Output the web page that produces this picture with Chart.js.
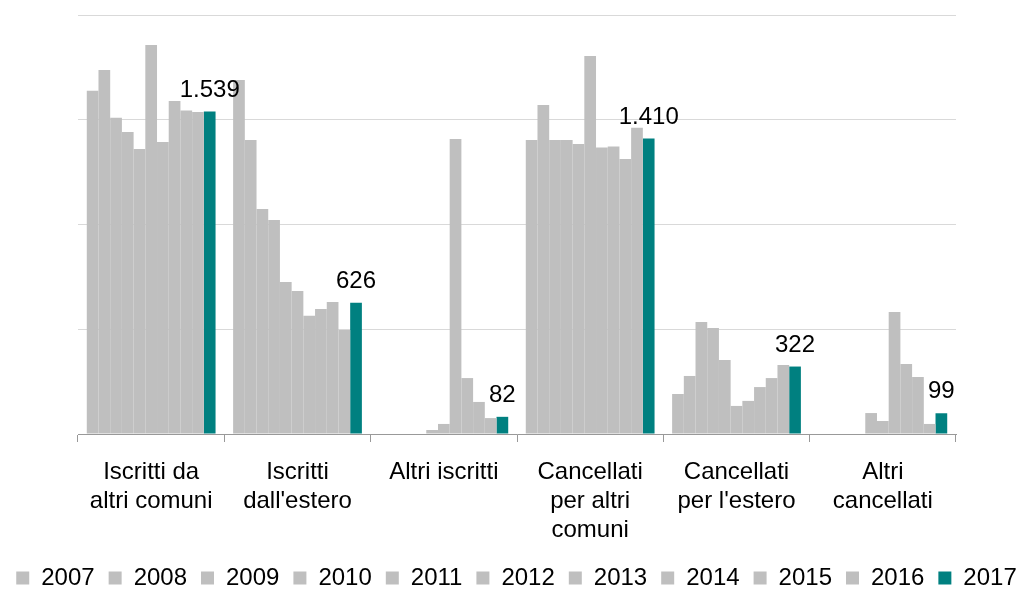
<!DOCTYPE html>
<html>
<head>
<meta charset="utf-8">
<script src="https://cdn.jsdelivr.net/npm/chart.js@4.4.1/dist/chart.umd.min.js"></script>
<style>
  html, body { margin: 0; padding: 0; background: #fff; overflow: hidden; }
  #wrap { width: 1033px; height: 600px; }
</style>
</head>
<body>
<div id="wrap"><canvas id="chart"></canvas></div>
<script>
const categories = [
  ['Iscritti da', 'altri comuni'],
  ['Iscritti', "dall'estero"],
  ['Altri iscritti'],
  ['Cancellati', 'per altri', 'comuni'],
  ['Cancellati', "per l'estero"],
  ['Altri', 'cancellati']
];
const years = ['2007', '2008', '2009', '2010', '2011', '2012', '2013', '2014', '2015', '2016', '2017'];

// one array per year, in category order
const v2007 = [1639, 1690, null, 1403, 191, null];
const v2008 = [1737, 1403, null, 1570, 277, null];
const v2009 = [1510, 1074, null, 1403, 535, null];
const v2010 = [1442, 1021, null, 1403, 506, null];
const v2011 = [1360, 726, 19, 1384, 353, 100];
const v2012 = [1857, 683, 48, 1804, 134, 62];
const v2013 = [1394, 565, 1408, 1367, 158, 582];
const v2014 = [1590, 597, 267, 1372, 224, 334];
const v2015 = [1544, 630, 153, 1313, 267, 272];
const v2016 = [1537, 496, 76, 1462, 329, 48];
const v2017 = [1539, 626, 82, 1410, 322, 99];

const seriesValues = [v2007, v2008, v2009, v2010, v2011, v2012, v2013, v2014, v2015, v2016, v2017];

const yTicks = [0, 500, 1000, 1500, 2000];

const grey = '#bfbfbf';
const teal = '#008080';
const fontFamily = '"Liberation Sans", Arial, sans-serif';

function fmt(n) {
  return String(n).replace(/\B(?=(\d{3})+(?!\d))/g, '.');
}

// value labels above the last year's bars
const lastLabels = {
  id: 'lastLabels',
  afterDatasetsDraw(chart) {
    const ctx = chart.ctx;
    const idx = chart.data.datasets.length - 1;
    const meta = chart.getDatasetMeta(idx);
    ctx.save();
    ctx.font = '24px ' + fontFamily;
    ctx.fillStyle = '#000';
    ctx.textAlign = 'center';
    ctx.textBaseline = 'alphabetic';
    meta.data.forEach((bar, i) => {
      const v = chart.data.datasets[idx].data[i];
      if (v == null) return;
      ctx.fillText(fmt(v), bar.x, bar.y - 15);
    });
    ctx.restore();
  }
};

Chart.defaults.font.family = fontFamily;
Chart.defaults.font.size = 24;
Chart.defaults.color = '#000';

const ctx = document.getElementById('chart').getContext('2d');
const chart = new Chart(ctx, {
  type: 'bar',
  data: {
    labels: categories,
    datasets: years.map((y, i) => ({
      label: y,
      data: seriesValues[i],
      backgroundColor: i === years.length - 1 ? teal : grey,
      borderWidth: 0,
      categoryPercentage: 0.88,
      barPercentage: 1.0
    }))
  },
  options: {
    responsive: true,
    maintainAspectRatio: false,
    animation: false,
    layout: { padding: { top: 15, left: 0, right: 0, bottom: 0 } },
    scales: {
      x: {
        grid: {
          display: true,
          drawOnChartArea: false,
          drawTicks: true,
          tickLength: 8,
          color: '#999'
        },
        border: { display: true, color: '#999', width: 1 },
        ticks: { padding: 16, maxRotation: 0, autoSkip: false, font: { size: 24 } },
        afterFit(scale) { scale.height = 118; }
      },
      y: {
        min: 0,
        max: yTicks[yTicks.length - 1],
        afterBuildTicks(scale) { scale.ticks = yTicks.map(v => ({ value: v })); },
        ticks: { display: false },
        grid: { color: '#d9d9d9', drawTicks: false },
        border: { display: false },
        afterFit(scale) { scale.width = 78; }
      },
      yRight: {
        position: 'right',
        min: 0,
        max: yTicks[yTicks.length - 1],
        ticks: { display: false },
        grid: { display: false, drawTicks: false },
        border: { display: false },
        afterFit(scale) { scale.width = 77; }
      }
    },
    plugins: {
      legend: {
        position: 'bottom',
        labels: {
          boxWidth: 13,
          boxHeight: 13,
          padding: 14,
          color: '#000',
          font: { size: 24 }
        }
      },
      tooltip: { enabled: false }
    }
  },
  plugins: [lastLabels]
});
</script>
</body>
</html>
